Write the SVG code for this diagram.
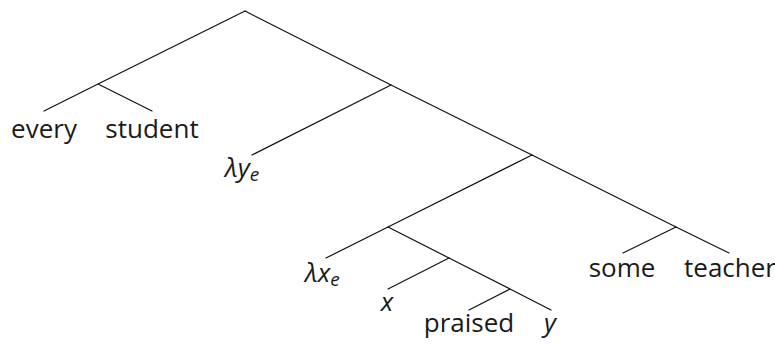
<svg xmlns="http://www.w3.org/2000/svg" width="775" height="345" viewBox="0 0 775 345">
<style>
.e{stroke:#111;stroke-width:1.2;fill:none;stroke-linecap:round}
.t{font-family:"Open Sans","DejaVu Sans",sans-serif;font-size:26px;fill:#1a1a1a}
.m{font-style:italic}
.c{text-anchor:middle}
.s{font-size:19px}
</style>
<rect width="775" height="345" fill="#fff"/>
<g id="connectors">
<path class="e" d="M245,11 L98,84 M98,84 L44,111 M98,84 L152,111"/>
<path class="e" d="M245,11 L391,85 L532,155 L676,227 L729,253"/>
<path class="e" d="M391,85 L252,155"/>
<path class="e" d="M532,155 L388,227 L326,258"/>
<path class="e" d="M676,227 L623,253"/>
<path class="e" d="M388,227 L449,258 L510,289 L551,310"/>
<path class="e" d="M449,258 L388,289"/>
<path class="e" d="M510,289 L469,310"/>
</g>
<g id="n-every"><text class="t c" x="44" y="138">every</text></g>
<g id="n-student"><text class="t c" x="152" y="138">student</text></g>
<g id="n-lambda-y"><text class="t m" x="225" y="177">λy<tspan class="s" dy="4">e</tspan></text></g>
<g id="n-lambda-x"><text class="t m" x="305" y="282">λx<tspan class="s" dy="4">e</tspan></text></g>
<g id="n-x"><text class="t m c" x="387" y="311">x</text></g>
<g id="n-praised"><text class="t c" x="469" y="332">praised</text></g>
<g id="n-y"><text class="t m c" x="550" y="332">y</text></g>
<g id="n-some"><text class="t c" x="622" y="277">some</text></g>
<g id="n-teacher"><text class="t c" x="730" y="277">teacher</text></g>
</svg>
